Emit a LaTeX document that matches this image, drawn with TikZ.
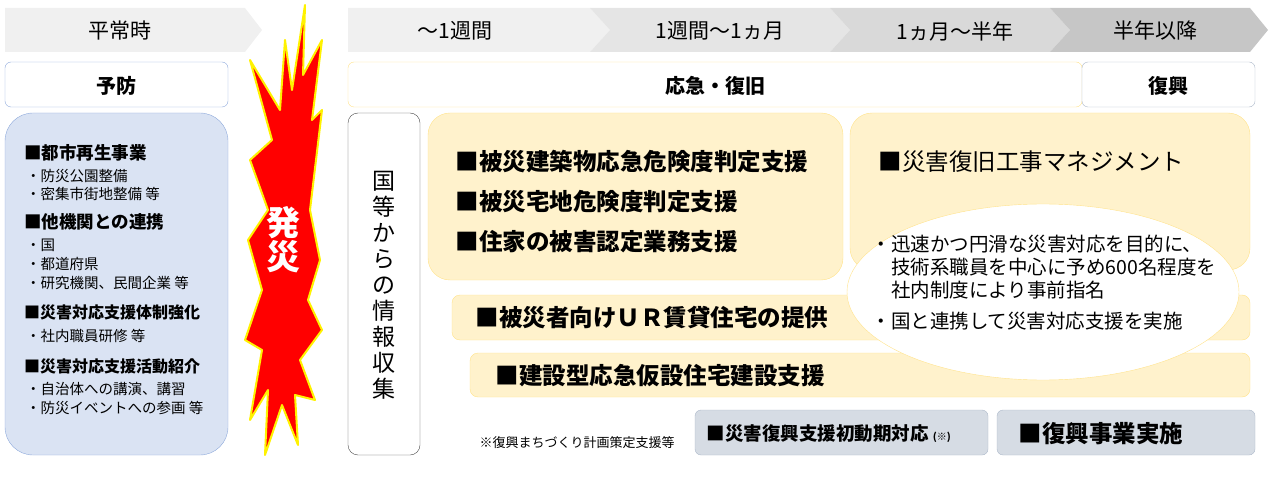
\documentclass[tikz,border=0pt]{standalone}
\usepackage{fontspec}
\setmainfont{Noto Sans CJK JP}
\usetikzlibrary{shapes.geometric}
\definecolor{ylf}{HTML}{FFF2CC}\definecolor{yld}{HTML}{FFE38A}
\definecolor{blf}{HTML}{DAE3F3}\definecolor{bld}{HTML}{8FAADC}
\definecolor{gyf}{HTML}{D6DCE4}\definecolor{gyd}{HTML}{ADB9CA}
\tikzset{x=1pt,y=-1pt,
 ybox/.style={fill=ylf,draw=yld,rounded corners=8pt},
 gbox/.style={fill=gyf,draw=gyd,rounded corners=6pt},
 big/.style={font=\fontsize{23.5}{26}\selectfont\bfseries,anchor=west},
 hd/.style={font=\fontsize{21}{24}\selectfont},
 lh/.style={font=\fontsize{17.5}{20}\selectfont\bfseries,anchor=west,inner sep=0pt},
 lh2/.style={font=\fontsize{16}{20}\selectfont\bfseries,anchor=west,inner sep=0pt},
 lb/.style={font=\fontsize{14.5}{16}\selectfont,anchor=west,inner sep=0pt}}
\begin{document}
\begin{tikzpicture}
\useasboundingbox (0,0) rectangle (1271,497);
% header chevrons
\fill[gray!12] (5,8)--(245,8)--(262,30)--(245,52)--(5,52)--cycle;
\node[hd] (h0) at (120,31) {平常時};
\fill[gray!12] (348,8)--(590,8)--(610,30)--(590,52)--(348,52)--cycle;
\fill[gray!20] (590,8)--(830,8)--(850,30)--(830,52)--(590,52)--(610,30)--cycle;
\fill[gray!30] (830,8)--(1050,8)--(1070,30)--(1050,52)--(830,52)--(850,30)--cycle;
\fill[gray!45] (1050,8)--(1250,8)--(1268,30)--(1250,52)--(1050,52)--(1070,30)--cycle;
\node[hd] (h1) at (455,31) {～1週間};
\node[hd] (h2) at (720,31) {1週間～1ヵ月};
\node[hd] (h3) at (955,31) {1ヵ月～半年};
\node[hd] (h4) at (1155,31) {半年以降};
% prevention
\draw[bld,fill=white,rounded corners=6pt] (5,62) rectangle (228,107);
\node[font=\fontsize{20}{22}\selectfont\bfseries] (yobo) at (116,86) {予防};
\draw[bld,fill=blf,rounded corners=28pt] (5,113) rectangle (228,455);
\node[lh] (l1) at (24,153) {■都市再生事業};
\node[lb] (l1a) at (26,176) {・防災公園整備};
\node[lb] (l1b) at (26,194) {・密集市街地整備 等};
\node[lh] (l2) at (24,222) {■他機関との連携};
\node[lb] (l2a) at (26,245) {・国};
\node[lb] (l2b) at (26,264) {・都道府県};
\node[lb] (l2c) at (26,283) {・研究機関、民間企業 等};
\node[lh2] (l3) at (24,312) {■災害対応支援体制強化};
\node[lb] (l3a) at (26,336) {・社内職員研修 等};
\node[lh2] (l4) at (24,366) {■災害対応支援活動紹介};
\node[lb] (l4a) at (26,389) {・自治体への講演、講習};
\node[lb] (l4b) at (26,408) {・防災イベントへの参画 等};
% starburst
\draw[yellow,line width=2pt,fill=red,line join=round]
(305,5)--(303,75)--(322,40)--(312,120)--(322,110)--(310,210)--(320,260)--(308,300)--(322,330)--(300,360)--(315,400)--(295,395)--(298,445)--(282,405)--(265,455)--(268,390)--(250,420)--(262,350)--(245,340)--(262,290)--(248,240)--(268,210)--(250,160)--(272,140)--(250,60)--(280,110)--(285,40)--(292,90)--cycle;
\node[text=white,font=\fontsize{34}{38}\selectfont\bfseries,align=center,inner sep=0pt] (hassai) at (283,240) {発\\[-4pt]災};
% recovery headers
\draw[yld,fill=white,rounded corners=6pt] (348,62) rectangle (1082,107);
\node[font=\fontsize{20}{22}\selectfont\bfseries] (oq) at (715,86) {応急・復旧};
\draw[gyd,fill=white,rounded corners=6pt] (1082,62) rectangle (1255,107);
\node[font=\fontsize{20}{22}\selectfont\bfseries] (fk) at (1168,86) {復興};
% info collection
\draw[black!70,fill=white,rounded corners=10pt] (348,113) rectangle (420,455);
\node[font=\fontsize{23}{26}\selectfont,align=center,inner sep=0pt] (info) at (384,285) {国\\等\\か\\ら\\の\\情\\報\\収\\集};
% yellow boxes
\draw[ybox,rounded corners=22pt] (428,113) rectangle (843,280);
\node[big] (b1) at (452,162) {■被災建築物応急危険度判定支援};
\node[big] (b2) at (452,202) {■被災宅地危険度判定支援};
\node[big] (b3) at (452,242) {■住家の被害認定業務支援};
\draw[ybox,rounded corners=22pt] (850,113) rectangle (1250,270);
\node[big,font=\fontsize{23.5}{26}\selectfont] (b4) at (875,162) {■災害復旧工事マネジメント};
\draw[ybox] (452,295) rectangle (1250,340);
\node[big] (b5) at (472,318) {■被災者向けＵＲ賃貸住宅の提供};
\draw[ybox] (470,353) rectangle (1250,397);
\node[big] (b6) at (492,376) {■建設型応急仮設住宅建設支援};
\node[ellipse,draw=yld,fill=white,minimum width=392pt,minimum height=176pt] (ell) at (1043,292) {};
\node[anchor=north west,align=left,font=\fontsize{19.5}{23}\selectfont] (et) at (868,232) {・迅速かつ円滑な災害対応を目的に、\\\hspace{1em}技術系職員を中心に予め600名程度を\\\hspace{1em}社内制度により事前指名\\[8pt]・国と連携して災害対応支援を実施};
% gray boxes
\draw[gbox] (695,410) rectangle (988,455);
\node[anchor=west,font=\fontsize{18.5}{20}\selectfont\bfseries] (g1) at (703,434) {■災害復興支援初動期対応 {\fontsize{10}{10}\selectfont(※)}};
\draw[gbox] (997,410) rectangle (1255,455);
\node[big] (g2) at (1015,434) {■復興事業実施};
\node[font=\fontsize{13}{14}\selectfont] (note) at (577,443) {※復興まちづくり計画策定支援等};
\end{tikzpicture}
\end{document}
